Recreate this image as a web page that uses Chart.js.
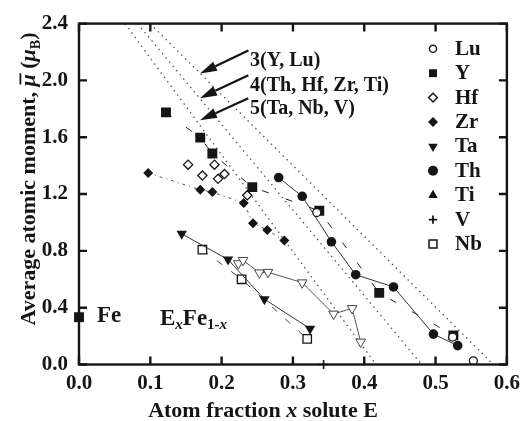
<!DOCTYPE html>
<html><head><meta charset="utf-8">
<script src="https://cdn.jsdelivr.net/npm/chart.js@4.4.1/dist/chart.umd.min.js"></script>
<style>html,body{margin:0;padding:0;background:#fff;}canvas{display:block;}</style>
</head><body>
<canvas id="c" width="526" height="421"></canvas>
<script>
// ---------- data ----------
const legendNames = ['Lu','Y','Hf','Zr','Ta','Th','Ti','V','Nb'];
const luX = [0.3334, 0.524, 0.553];            const luY = [1.07, 0.193, 0.026];
const yX  = [0.122, 0.170, 0.187, 0.243, 0.337, 0.421, 0.525];
const yY  = [1.775, 1.597, 1.485, 1.249, 1.082, 0.504, 0.205];
const hfX = [0.153, 0.173, 0.190, 0.195, 0.204, 0.236];
const hfY = [1.407, 1.330, 1.407, 1.307, 1.341, 1.191];
const zrX = [0.097, 0.170, 0.187, 0.231, 0.244, 0.264, 0.288];
const zrY = [1.348, 1.230, 1.214, 1.137, 0.995, 0.947, 0.873];
const taX = [0.144, 0.209, 0.260, 0.324];      const taY = [0.920, 0.739, 0.460, 0.252];
const thX = [0.280, 0.313, 0.354, 0.388, 0.441, 0.497, 0.531];
const thY = [1.316, 1.184, 0.864, 0.632, 0.546, 0.214, 0.133];
const tiX = [];                                const tiY = [];
const vX  = [0.343];                           const vY  = [0.0];
const nbX = [0.173, 0.228, 0.320];             const nbY = [0.808, 0.600, 0.180];
const ta2X = [0.2235, 0.230, 0.253, 0.265, 0.313, 0.357, 0.383, 0.395];
const ta2Y = [0.711, 0.734, 0.646, 0.650, 0.576, 0.356, 0.395, 0.159];
const feX = [0];                               const feY = [0.333];
const ref3X = [0.0996, 0.581];  const ref3Y = [2.4, 0];
const ref4X = [0.082, 0.4806];  const ref4Y = [2.4, 0];
const ref5X = [0.0645, 0.4165]; const ref5Y = [2.4, 0];
const xTicks = [0.0, 0.1, 0.2, 0.3, 0.4, 0.5, 0.6];
const yTicks = [0.0, 0.4, 0.8, 1.2, 1.6, 2.0, 2.4];
const refLabels = ['3(Y, Lu)', '4(Th, Hf, Zr, Ti)', '5(Ta, Nb, V)'];

// ---------- styling ----------
const SERIF = '"Liberation Serif", "Times New Roman", serif';
const INK = '#151515';
const pts = (xs, ys) => xs.map((x, i) => ({x: x, y: ys[i]}));

function series(label, xs, ys, o) {
  return Object.assign({
    label: label, data: pts(xs, ys), showLine: false,
    borderColor: '#222', borderWidth: 1,
    pointBorderColor: INK, pointBackgroundColor: INK,
    pointBorderWidth: 1.3, pointRadius: 5, pointHoverRadius: 5
  }, o);
}

const datasets = [
  series('Lu', luX, luY, {pointStyle: 'circle', pointRadius: 4, pointBackgroundColor: '#fff'}),
  series('Y', yX, yY, {pointStyle: 'rect', pointRadius: 7, pointBorderWidth: 0, showLine: true, borderDash: [7, 18], borderWidth: 1}),
  series('Hf', hfX, hfY, {pointStyle: 'rectRot', pointRadius: 4.6, pointBackgroundColor: '#fff'}),
  series('Zr', zrX, zrY, {pointStyle: 'rectRot', pointRadius: 5, pointBorderWidth: 0, showLine: true, borderDash: [3, 4, 1, 4], borderColor: '#555', borderWidth: 1}),
  series('Ta', taX, taY, {pointStyle: 'triangle', pointRotation: 180, pointRadius: 6, pointBorderWidth: 0, showLine: true, borderColor: '#333', borderWidth: 1}),
  series('Th', thX, thY, {pointStyle: 'circle', pointRadius: 4.8, pointBorderWidth: 0, showLine: true, borderColor: '#333', borderWidth: 1}),
  series('Ti', tiX, tiY, {pointStyle: 'triangle', pointRadius: 6, pointBorderWidth: 0}),
  series('V', vX, vY, {pointStyle: 'cross', pointRadius: 4.5, pointBorderWidth: 1.6, clip: false}),
  series('Nb', nbX, nbY, {pointStyle: 'rect', pointRadius: 6, pointBackgroundColor: '#fff', showLine: true, borderDash: [7, 11], borderColor: '#444', borderWidth: 1}),
  series('Ta2', ta2X, ta2Y, {pointStyle: 'triangle', pointRotation: 180, pointRadius: 5.6, pointBackgroundColor: '#fff', pointBorderColor: '#444', pointBorderWidth: 1, showLine: true, borderColor: '#444', borderWidth: 0.9}),
  series('Fe', feX, feY, {pointStyle: 'rect', pointRadius: 7, pointBorderWidth: 0, clip: false}),
  series('ref3', ref3X, ref3Y, {pointRadius: 0, showLine: true, borderDash: [1.5, 4], borderColor: '#555', borderWidth: 1.3}),
  series('ref4', ref4X, ref4Y, {pointRadius: 0, showLine: true, borderDash: [1.5, 4], borderColor: '#555', borderWidth: 1.3}),
  series('ref5', ref5X, ref5Y, {pointRadius: 0, showLine: true, borderDash: [1.5, 4], borderColor: '#555', borderWidth: 1.3})
];

const legendMarks = {
  Lu: {pointStyle: 'circle', radius: 3.6, fill: '#fff', borderWidth: 1.4},
  Y:  {pointStyle: 'rect', radius: 5.6, fill: INK, borderWidth: 0},
  Hf: {pointStyle: 'rectRot', radius: 4.4, fill: '#fff', borderWidth: 1.4},
  Zr: {pointStyle: 'rectRot', radius: 5, fill: INK, borderWidth: 0},
  Ta: {pointStyle: 'triangle', rotation: 180, radius: 5.5, fill: INK, borderWidth: 0},
  Th: {pointStyle: 'circle', radius: 5, fill: INK, borderWidth: 0},
  Ti: {pointStyle: 'triangle', radius: 5.5, fill: INK, borderWidth: 0},
  V:  {pointStyle: 'cross', radius: 4.2, fill: INK, borderWidth: 1.8},
  Nb: {pointStyle: 'rect', radius: 5.6, fill: '#fff', borderWidth: 1.5}
};

function mark(ctx, m, x, y) {
  ctx.save();
  ctx.fillStyle = m.fill; ctx.strokeStyle = INK; ctx.lineWidth = m.borderWidth || 0;
  Chart.helpers.drawPoint(ctx, {pointStyle: m.pointStyle, rotation: m.rotation || 0, radius: m.radius, borderWidth: m.borderWidth}, x, y);
  ctx.restore();
}

function rich(ctx, segs, cx, baseY, rotate) {
  ctx.save();
  ctx.translate(cx, baseY);
  if (rotate) ctx.rotate(-Math.PI / 2);
  ctx.textBaseline = 'alphabetic'; ctx.textAlign = 'left'; ctx.fillStyle = INK;
  let total = 0;
  segs.forEach(s => { ctx.font = s.font; s.w = ctx.measureText(s.t).width; total += s.w; });
  let x = -total / 2;
  segs.forEach(s => {
    ctx.font = s.font;
    ctx.fillText(s.t, x, s.dy || 0);
    if (s.over) ctx.fillRect(x + 2, -15.5, s.w - 1, 1.8);
    x += s.w;
  });
  ctx.restore();
}

const B = n => 'bold ' + n + 'px ' + SERIF;
const BI = n => 'italic bold ' + n + 'px ' + SERIF;

const deco = {
  id: 'deco',
  afterDraw(chart) {
    const ctx = chart.ctx, a = chart.chartArea;
    const xs = chart.scales.x, ys = chart.scales.y;
    ctx.save();
    // frame
    ctx.strokeStyle = INK; ctx.lineWidth = 2.4;
    ctx.strokeRect(a.left, a.top, a.right - a.left, a.bottom - a.top);
    // inward ticks on all four sides
    ctx.beginPath();
    xTicks.forEach(v => {
      const p = xs.getPixelForValue(v);
      ctx.moveTo(p, a.bottom); ctx.lineTo(p, a.bottom - 8);
      ctx.moveTo(p, a.top); ctx.lineTo(p, a.top + 8);
    });
    yTicks.forEach(v => {
      const p = ys.getPixelForValue(v);
      ctx.moveTo(a.left, p); ctx.lineTo(a.left + 8, p);
      ctx.moveTo(a.right, p); ctx.lineTo(a.right - 8, p);
    });
    ctx.stroke();

    // reference-line labels and arrows
    const tails = [[0.2375, 2.211], [0.2375, 2.037], [0.2375, 1.875]];
    const tips  = [[0.1697, 2.049], [0.1697, 1.875], [0.1697, 1.720]];
    const labelPos = [[0.2398, 2.1], [0.2398, 1.926], [0.2398, 1.766]];
    ctx.fillStyle = INK; ctx.strokeStyle = INK;
    refLabels.forEach((t, i) => {
      ctx.font = B(20); ctx.textAlign = 'left'; ctx.textBaseline = 'alphabetic';
      ctx.fillText(t, xs.getPixelForValue(labelPos[i][0]), ys.getPixelForValue(labelPos[i][1]));
      const x0 = xs.getPixelForValue(tails[i][0]), y0 = ys.getPixelForValue(tails[i][1]);
      const x1 = xs.getPixelForValue(tips[i][0]), y1 = ys.getPixelForValue(tips[i][1]);
      const ang = Math.atan2(y1 - y0, x1 - x0);
      const L = 17, W = 5;
      const bx = x1 - L * Math.cos(ang), by = y1 - L * Math.sin(ang);
      ctx.lineWidth = 2.2;
      ctx.beginPath(); ctx.moveTo(x0, y0); ctx.lineTo(bx, by); ctx.stroke();
      ctx.beginPath();
      ctx.moveTo(x1, y1);
      ctx.lineTo(bx + W * Math.sin(ang), by - W * Math.cos(ang));
      ctx.lineTo(bx - W * Math.sin(ang), by + W * Math.cos(ang));
      ctx.closePath(); ctx.fill();
    });

    // Fe and ExFe1-x labels
    ctx.font = B(23); ctx.textAlign = 'left'; ctx.textBaseline = 'alphabetic';
    ctx.fillText('Fe', xs.getPixelForValue(0.0251), ys.getPixelForValue(0.298));
    let px = xs.getPixelForValue(0.1136), py = ys.getPixelForValue(0.275);
    const parts = [
      {t: 'E', f: B(23), dy: 0}, {t: 'x', f: BI(15), dy: 4},
      {t: 'Fe', f: B(23), dy: 0}, {t: '1-', f: B(15), dy: 4}, {t: 'x', f: BI(15), dy: 4}
    ];
    parts.forEach(p => { ctx.font = p.f; ctx.fillText(p.t, px, py + p.dy); px += ctx.measureText(p.t).width; });

    // legend
    legendNames.forEach((n, i) => {
      const my = 48.8 + 24.4 * i;
      mark(ctx, legendMarks[n], 433, my);
      ctx.fillStyle = INK; ctx.font = B(21); ctx.textAlign = 'left'; ctx.textBaseline = 'alphabetic';
      ctx.fillText(n, 455, my + 6);
    });

    // axis titles
    rich(ctx, [
      {t: 'Atom fraction ', font: B(22)}, {t: 'x', font: BI(22)}, {t: ' solute E', font: B(22)}
    ], 263, 417, false);
    rich(ctx, [
      {t: 'Average atomic moment, ', font: B(22)},
      {t: '\u03bc', font: BI(22), over: true},
      {t: ' (', font: B(22)},
      {t: '\u03bc', font: BI(22)},
      {t: 'B', font: B(14), dy: 5},
      {t: ')', font: B(22)}
    ], 35, 179, true);
    ctx.restore();
  }
};

new Chart(document.getElementById('c'), {
  type: 'scatter',
  data: {datasets: datasets},
  plugins: [deco],
  options: {
    responsive: false, animation: false, events: [],
    layout: {padding: {top: 19.5, right: 19, left: 0, bottom: 0}},
    plugins: {legend: {display: false}, tooltip: {enabled: false}},
    scales: {
      x: {
        type: 'linear', min: 0, max: 0.6,
        afterFit: s => { s.height = 56.5; },
        afterBuildTicks: s => { s.ticks = xTicks.map(v => ({value: v})); },
        ticks: {font: {family: SERIF, weight: 'bold', size: 21}, color: INK, padding: 6,
                maxRotation: 0, autoSkip: false, callback: v => Number(v).toFixed(1)},
        grid: {display: false, drawTicks: false, tickLength: 0}, border: {display: false}
      },
      y: {
        type: 'linear', min: 0, max: 2.4,
        afterFit: s => { s.width = 79; },
        afterBuildTicks: s => { s.ticks = yTicks.map(v => ({value: v})); },
        ticks: {font: {family: SERIF, weight: 'bold', size: 21}, color: INK, padding: 11,
                autoSkip: false, callback: v => Number(v).toFixed(1)},
        grid: {display: false, drawTicks: false, tickLength: 0}, border: {display: false}
      }
    }
  }
});
</script>
</body></html>
